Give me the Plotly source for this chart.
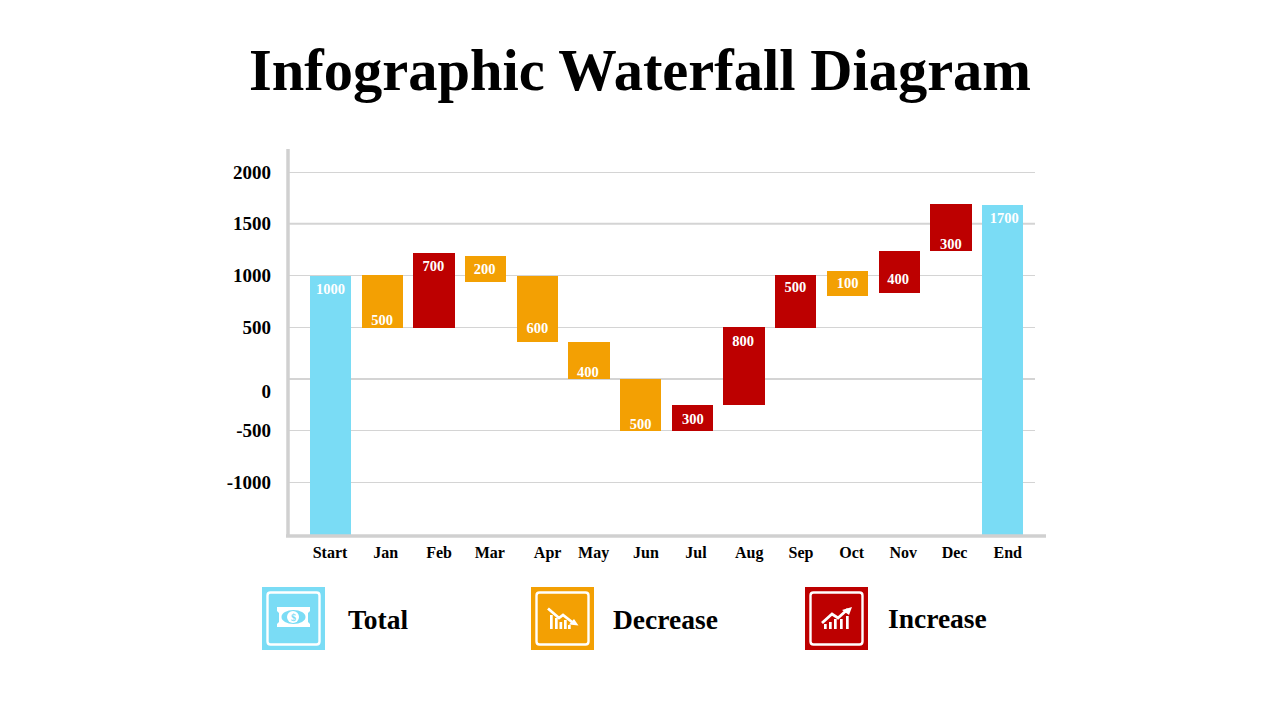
import plotly.graph_objects as go

W, H = 1280, 720
FONT = "Liberation Serif"
BLUE, ORANGE, RED = "#7ADCF5", "#F3A003", "#BD0000"
GRID = "#D4D4D4"
AXIS = "#D0D0D0"

categories = ["Start", "Jan", "Feb", "Mar", "Apr", "May", "Jun", "Jul", "Aug", "Sep", "Oct", "Nov", "Dec", "End"]
bar_low = [-1515, 495, 495, 940, 360, 0, -500, -500, -250, 495, 800, 830, 1240, -1515]
bar_high = [1000, 1005, 1220, 1190, 1000, 360, 0, -250, 500, 1005, 1040, 1240, 1690, 1680]
kinds = ["t", "d", "i", "d", "d", "d", "d", "i", "i", "i", "d", "i", "i", "t"]
labels = ["1000", "500", "700", "200", "600", "400", "500", "300", "800", "500", "100", "400", "300", "1700"]
label_y = [860, 560, 1080, 1053, 483, 58, -445, -396, 357, 879, 918, 956, 1294, 1546]
label_shift = [0, 0, -0.01, -0.02, 0, -0.02, 0, 0.01, -0.02, -0.01, 0, -0.02, 0, 0.03]
cat_label_pos = [-0.01, 1.07, 2.10, 3.08, 4.2, 5.09, 6.1, 7.07, 8.1, 9.1, 10.08, 11.08, 12.07, 13.1]
y_grid = [2000, 1500, 1000, 500, 0, -500, -1000]
y_strong = [1500, 0]
y_label_pos = [2000, 1500, 1000, 500, -116, -500, -1000]
y_label_txt = ["2000", "1500", "1000", "500", "0", "-500", "-1000"]
legend_names = ["Total", "Decrease", "Increase"]

color_of = {"t": BLUE, "d": ORANGE, "i": RED}

# plot area in px
PL, PR, PT, PB = 288, 1035, 150, 535.5
STEP = 51.7
X0 = 330.5
Y_PER = 51.75 / 500
y_range = [(379 - PB) / Y_PER, (379 - PT) / Y_PER]
x_range = [(PL - X0) / STEP, (PR - X0) / STEP]


def px(x):
    return x / W


def py(y):
    return 1 - y / H


def path(pts, close=True):
    s = "M " + " L ".join(f"{px(x):.5f},{py(y):.5f}" for x, y in pts)
    return s + (" Z" if close else "")


fig = go.Figure()
fig.add_bar(
    x=list(range(len(categories))),
    y=[h - l for h, l in zip(bar_high, bar_low)],
    base=bar_low,
    width=0.8,
    marker=dict(color=[color_of[k] for k in kinds], line_width=0),
    hoverinfo="skip",
    cliponaxis=False,
)
fig.add_scatter(
    x=[i + s for i, s in enumerate(label_shift)],
    y=label_y,
    mode="text",
    text=labels,
    textposition="middle center",
    textfont=dict(family=FONT, size=14.5, color="white", weight="bold"),
    hoverinfo="skip",
)
# second y axis only carries the tick labels (the "0" sits below its gridline)
fig.add_scatter(x=[0], y=[0], yaxis="y2", mode="markers", marker=dict(opacity=0), hoverinfo="skip")

shapes = []
for v in y_strong:
    shapes.append(dict(type="line", xref="paper", yref="y", x0=px(PL), x1=px(PR), y0=v, y1=v,
                       line=dict(color=GRID, width=2), layer="below"))
shapes.append(dict(type="line", xref="paper", yref="paper", x0=px(288), x1=px(288), y0=py(149), y1=py(537),
                   line=dict(color=AXIS, width=3.5)))
shapes.append(dict(type="line", xref="paper", yref="paper", x0=px(286), x1=px(1046), y0=py(536), y1=py(536),
                   line=dict(color=AXIS, width=3.5)))


def tile(x, color):
    y = 587
    shapes.append(dict(type="rect", xref="paper", yref="paper", x0=px(x), x1=px(x + 63), y0=py(y), y1=py(y + 63),
                       fillcolor=color, line_width=0))
    # rounded white frame
    a, b, c, d, r = x + 5.5, x + 57.5, y + 5.5, y + 57.5, 3
    s = (f"M {px(a+r)},{py(c)} L {px(b-r)},{py(c)} Q {px(b)},{py(c)} {px(b)},{py(c+r)} "
         f"L {px(b)},{py(d-r)} Q {px(b)},{py(d)} {px(b-r)},{py(d)} L {px(a+r)},{py(d)} "
         f"Q {px(a)},{py(d)} {px(a)},{py(d-r)} L {px(a)},{py(c+r)} Q {px(a)},{py(c)} {px(a+r)},{py(c)} Z")
    shapes.append(dict(type="path", xref="paper", yref="paper", path=s, line=dict(color="white", width=2.4)))


def white(pts):
    shapes.append(dict(type="path", xref="paper", yref="paper", path=path(pts), fillcolor="white", line_width=0))


def stroke(pts, width):
    shapes.append(dict(type="path", xref="paper", yref="paper", path=path(pts, close=False),
                       line=dict(color="white", width=width)))


# Total tile: banknote
tile(262, BLUE)
white([(277, 607), (310, 607), (310, 611), (308, 613), (308, 622), (310, 624), (310, 627), (277, 627),
       (277, 624), (279, 622), (279, 613), (277, 611)])
shapes.append(dict(type="circle", xref="paper", yref="paper", x0=px(281.5), x1=px(305.5), y0=py(624), y1=py(610),
                   fillcolor=BLUE, line_width=0))
shapes.append(dict(type="circle", xref="paper", yref="paper", x0=px(287), x1=px(299), y0=py(623), y1=py(611),
                   fillcolor="white", line_width=0))

# Decrease tile
tile(531, ORANGE)
for x0, top in zip([550, 555, 559.5, 564, 568], [615, 618, 622, 620, 625]):
    white([(x0, top), (x0 + 2.7, top), (x0 + 2.7, 629), (x0, 629)])
stroke([(548, 608.5), (559, 618), (563, 615), (572, 622)], 2.8)
white([(569, 624.5), (574, 619), (578.5, 625.5)])

# Increase tile
tile(805, RED)
for x0, top in zip([824, 829, 834, 840, 846], [624, 622, 619, 619, 616]):
    white([(x0, top), (x0 + 2.7, top), (x0 + 2.7, 629), (x0, 629)])
stroke([(822, 623), (832, 614), (838, 618), (848, 609)], 2.8)
white([(842, 610), (852, 607), (849, 615)])

annotations = [dict(xref="paper", yref="paper", x=px(640), y=py(71), text="<b>Infographic Waterfall Diagram</b>",
                    showarrow=False, xanchor="center", yanchor="middle",
                    font=dict(family=FONT, size=58.5, color="black")),
               dict(xref="paper", yref="paper", x=px(293), y=py(617), text="<b>$</b>", showarrow=False,
                    xanchor="center", yanchor="middle", borderpad=0,
                    font=dict(family=FONT, size=10, color=BLUE))]
for name, x, y in zip(legend_names, [346, 611, 886], [619.5, 619.5, 618.5]):
    annotations.append(dict(xref="paper", yref="paper", x=px(x), y=py(y), text=f"<b>{name}</b>", showarrow=False,
                            xanchor="left", yanchor="middle", font=dict(family=FONT, size=27.5, color="black")))

fig.update_layout(
    width=W, height=H, autosize=False,
    margin=dict(l=0, r=0, t=0, b=0, pad=0),
    paper_bgcolor="white", plot_bgcolor="white",
    showlegend=False,
    shapes=shapes, annotations=annotations,
    xaxis=dict(domain=[px(PL), px(PR)], range=x_range, tickmode="array", tickvals=cat_label_pos, ticktext=categories,
               showgrid=False, zeroline=False, showline=False, ticks="", ticklabelstandoff=5,
               tickfont=dict(family=FONT, size=16, color="black", weight="bold")),
    yaxis=dict(domain=[py(PB), py(PT)], range=y_range, tickmode="array", tickvals=y_grid, showticklabels=False,
               showgrid=True, gridcolor=GRID, gridwidth=1, zeroline=False, showline=False, ticks=""),
    yaxis2=dict(overlaying="y", side="left", range=y_range, tickmode="array", tickvals=y_label_pos,
                ticktext=y_label_txt, showgrid=False, zeroline=False, showline=False, ticks="", ticklabelstandoff=16,
                tickfont=dict(family=FONT, size=19, color="black", weight="bold")),
    bargap=0,
)
fig.write_html("out.html", config={"displayModeBar": False},
               post_script="document.body.style.margin='0';document.body.style.overflow='hidden';")
